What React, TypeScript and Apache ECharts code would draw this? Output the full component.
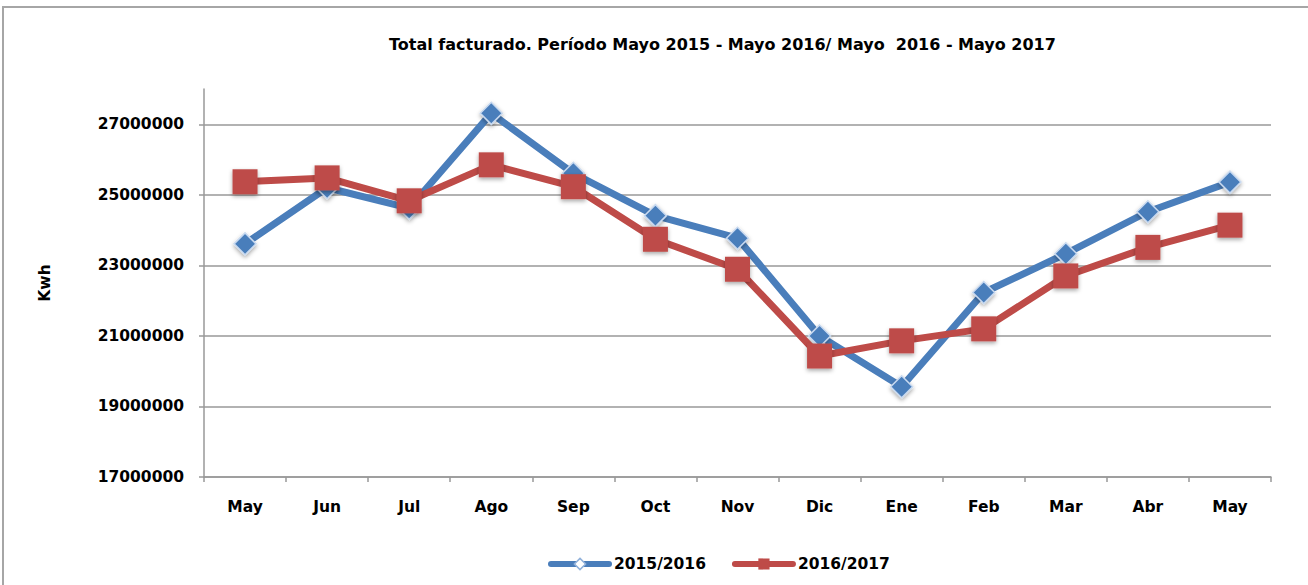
import React, { useEffect, useRef } from "react";
import * as echarts from "echarts";

const categories = ["May", "Jun", "Jul", "Ago", "Sep", "Oct", "Nov", "Dic", "Ene", "Feb", "Mar", "Abr", "May"];
const serie2015 = [23610000, 25200000, 24620000, 27310000, 25610000, 24410000, 23770000, 21000000, 19560000, 22230000, 23330000, 24520000, 25360000];
const serie2016 = [25370000, 25480000, 24830000, 25850000, 25230000, 23740000, 22890000, 20430000, 20860000, 21200000, 22700000, 23510000, 24140000];
const yTicks = [17000000, 19000000, 21000000, 23000000, 25000000, 27000000];
const titleText = "Total facturado. Período Mayo 2015 - Mayo 2016/ Mayo  2016 - Mayo 2017";
const seriesNames = ["2015/2016", "2016/2017"];

const FONT = "'DejaVu Sans', sans-serif";

export default function App() {
  const ref = useRef<HTMLDivElement>(null);
  useEffect(() => {
    if (!ref.current) return;
    const chart = echarts.init(ref.current, undefined, { renderer: "svg" });
    chart.setOption({
      animation: false,
      backgroundColor: "#ffffff",
      textStyle: { fontFamily: FONT },
      graphic: [
        {
          type: "rect",
          shape: { x: 3, y: 7, width: 1400, height: 700 },
          style: { fill: "none", stroke: "#a6a6a6", lineWidth: 2 },
          silent: true,
        },
      ],
      title: {
        text: titleText,
        left: 384,
        top: 31,
        textStyle: { fontFamily: FONT, fontWeight: "bold", fontSize: 16, color: "#000" },
      },
      legend: {
        left: 543,
        top: 551,
        itemWidth: 58,
        itemHeight: 14,
        itemGap: 26,
        lineStyle: { width: 6, cap: "round" },
        textStyle: { fontFamily: FONT, fontWeight: "bold", fontSize: 15.5, color: "#000" },
        data: [
          {
            name: seriesNames[0],
            itemStyle: { color: "#ffffff", borderColor: "#8fb0da", borderWidth: 1.5 },
          },
          { name: seriesNames[1] },
        ],
      },
      grid: { left: 204, right: 37, top: 89, bottom: 108, containLabel: false },
      xAxis: {
        type: "category",
        data: categories,
        boundaryGap: true,
        axisLine: { lineStyle: { color: "#999", width: 1.5 } },
        axisTick: { show: true, length: 5, lineStyle: { color: "#999", width: 1.5 } },
        axisLabel: { margin: 22, fontFamily: FONT, fontWeight: "bold", fontSize: 15.5, color: "#000" },
        splitLine: { show: false },
      },
      yAxis: {
        type: "value",
        min: 17000000,
        max: 28000000,
        name: "Kwh",
        nameLocation: "middle",
        nameRotate: 90,
        nameGap: 151,
        nameTextStyle: { fontFamily: FONT, fontWeight: "bold", fontSize: 15.5, color: "#000" },
        axisLine: { show: true, lineStyle: { color: "#999", width: 1.5 } },
        axisTick: { show: true, length: 5, customValues: yTicks, lineStyle: { color: "#999", width: 1.5 } },
        axisLabel: {
          margin: 20,
          customValues: yTicks,
          fontFamily: FONT,
          fontWeight: "bold",
          fontSize: 15.5,
          color: "#000",
          formatter: (v: number) => String(v),
        },
        splitLine: { show: true, lineStyle: { color: "#999", width: 1.5 } },
      },
      series: [
        {
          name: seriesNames[0],
          type: "line",
          data: serie2015,
          symbol: "diamond",
          symbolSize: 22,
          lineStyle: { color: "#4A7EBB", width: 7 },
          itemStyle: {
            color: "#4A7EBB",
            borderColor: "#c9daf0",
            borderWidth: 1.5,
            shadowBlur: 4,
            shadowColor: "rgba(0,0,0,0.35)",
            shadowOffsetY: 2,
          },
          z: 2,
        },
        {
          name: seriesNames[1],
          type: "line",
          data: serie2016,
          symbol: "rect",
          symbolSize: 25,
          lineStyle: { color: "#BE4B48", width: 7 },
          itemStyle: {
            color: "#BE4B48",
            shadowBlur: 4,
            shadowColor: "rgba(0,0,0,0.35)",
            shadowOffsetY: 2,
          },
          z: 3,
        },
      ],
    });
    return () => chart.dispose();
  }, []);
  return (
    <div
      ref={ref}
      style={{ position: "absolute", left: 0, top: 0, width: 1308, height: 585 }}
    />
  );
}
